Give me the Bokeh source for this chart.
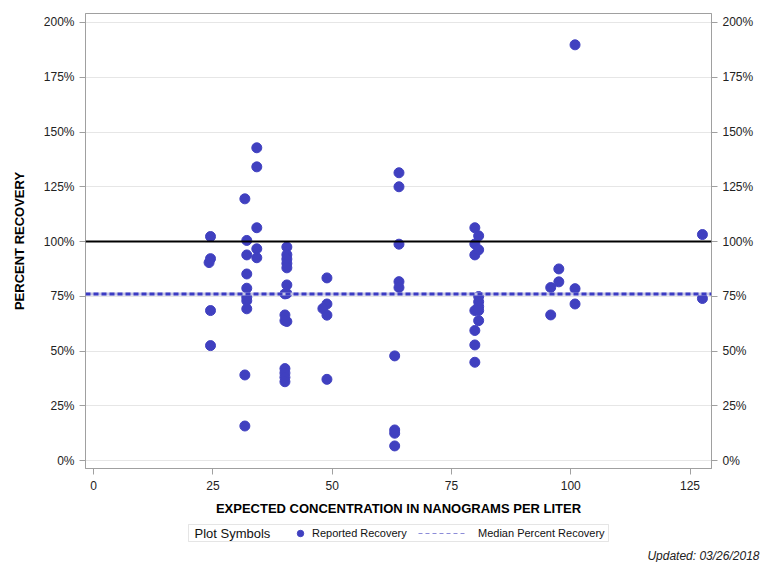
from bokeh.plotting import figure
from bokeh.layouts import column
from bokeh.models import (Range1d, FixedTicker, PrintfTickFormatter, LinearAxis,
                          Span, Legend, LegendItem, Label, BoxAnnotation, Title, ColumnDataSource)
from bokeh.embed import file_html
from bokeh.resources import INLINE

# ---- data ----
expected_conc = [24.5, 24.5, 24.5, 24.5, 24.2,
                 31.7, 31.7, 31.7,
                 32.1, 32.1, 32.1, 32.1, 32.1, 32.1, 32.1,
                 34.2, 34.2, 34.2, 34.2, 34.2,
                 40.5, 40.5, 40.5, 40.5, 40.5, 40.5, 40.5, 40.5,
                 40.1, 40.1, 40.1, 40.1, 40.1, 40.1, 40.1,
                 48.9, 48.9, 48.9, 48.9, 48.05,
                 64.0, 64.0, 64.0, 64.0, 64.0,
                 63.1, 63.1, 63.1, 63.1,
                 79.9, 79.9, 79.9, 79.9, 79.9, 79.9, 79.9,
                 80.7, 80.7, 80.7, 80.7, 80.7, 80.7, 80.7,
                 95.8, 95.8, 97.5, 97.5,
                 100.9, 100.9, 100.9,
                 127.6, 127.6]
percent_recovery = [102.3, 92.2, 68.5, 52.5, 90.4,
                    119.5, 39.1, 15.8,
                    100.5, 93.9, 85.2, 78.7, 74.6, 73.0, 69.3,
                    142.8, 134.1, 106.3, 96.7, 92.6,
                    97.5, 94.0, 92.0, 90.0, 88.0, 80.2, 76.3, 63.5,
                    76.1, 66.5, 63.9, 42.0, 40.0, 38.0, 36.0,
                    83.4, 71.5, 66.4, 37.1, 69.4,
                    131.4, 125.0, 98.8, 81.7, 79.0,
                    47.8, 14.0, 12.5, 6.7,
                    106.3, 98.9, 93.9, 68.5, 59.4, 52.8, 44.9,
                    102.6, 96.2, 74.9, 72.5, 70.3, 68.5, 63.9,
                    79.0, 66.5, 87.5, 81.6,
                    189.8, 78.5, 71.5,
                    103.2, 74.0]
median_recovery = 76.0
reference_recovery = 100.0
x_ticks = [0, 25, 50, 75, 100, 125]
y_ticks = [0, 25, 50, 75, 100, 125, 150, 175, 200]
legend_title = "Plot Symbols"
series_label = "Reported Recovery"
median_label = "Median Percent Recovery"
updated_text = "Updated: 03/26/2018"

FONT = "Liberation Sans"
BLUE = "#4040C0"
W = 760

# ---------------- main chart ----------------
p = figure(width=W, height=518,
           min_border_left=85, min_border_right=49, min_border_top=13, min_border_bottom=50,
           x_range=Range1d(-1.7, 129.5), y_range=Range1d(-3.6, 204.1),
           output_backend="svg", toolbar_location=None)
p.outline_line_color = "#a0a0a0"
p.xgrid.visible = False
p.ygrid.grid_line_color = "#e6e6e6"
p.ygrid.ticker = FixedTicker(ticks=y_ticks)

def style_axis(ax):
    ax.axis_line_color = "#a0a0a0"
    ax.major_tick_line_color = "#a0a0a0"
    ax.minor_tick_line_color = None
    ax.major_tick_out = 6
    ax.major_tick_in = 0
    ax.major_label_text_font = FONT
    ax.major_label_text_font_size = "12px"
    ax.major_label_text_color = "#222222"
    ax.axis_label_text_font = FONT
    ax.axis_label_text_font_size = "13px"
    ax.axis_label_text_font_style = "bold"
    ax.axis_label_text_color = "#000000"

xa = p.xaxis[0]
xa.ticker = FixedTicker(ticks=x_ticks)
xa.axis_label = "EXPECTED CONCENTRATION IN NANOGRAMS PER LITER"
style_axis(xa)
xa.major_label_standoff = 6
xa.axis_label_standoff = 8

ya = p.yaxis[0]
ya.ticker = FixedTicker(ticks=y_ticks)
ya.formatter = PrintfTickFormatter(format="%d%%")
ya.axis_label = "PERCENT RECOVERY"
style_axis(ya)
ya.major_label_standoff = 5
ya.axis_label_standoff = 14

ra = LinearAxis(ticker=FixedTicker(ticks=y_ticks), formatter=PrintfTickFormatter(format="%d%%"))
style_axis(ra)
ra.major_label_standoff = 5
p.add_layout(ra, "right")

# reference and median lines
p.add_layout(Span(location=reference_recovery, dimension="width", line_color="black", line_width=2))
p.add_layout(Span(location=median_recovery, dimension="width", line_color="#c4c4e4", line_width=3))
p.add_layout(Span(location=median_recovery, dimension="width", line_color="#3c3cc4",
                  line_width=3, line_dash="5 3"))

src = ColumnDataSource(data=dict(x=expected_conc, y=percent_recovery))
p.scatter("x", "y", source=src, size=10, fill_color=BLUE, line_color=BLUE)

# ---------------- legend strip (frame aligned with main frame: x in page pixels) ----------------
p2 = figure(width=W, frame_height=28,
            min_border_left=85, min_border_right=49, min_border_top=0, min_border_bottom=0,
            x_range=Range1d(85, 711), y_range=Range1d(0, 28),
            x_axis_type=None, y_axis_type=None, output_backend="svg", toolbar_location=None)
p2.outline_line_color = None
p2.grid.visible = False

leg_pts = p2.scatter(x=[-1000], y=[-1000], size=10, fill_color=BLUE, line_color=BLUE)
leg_med = p2.line(x=[-1000, -999], y=[-1000, -1000], line_color="#8c8cd8", line_width=1, line_dash="4 3")

p2.add_layout(BoxAnnotation(left=188, right=608, bottom=5, top=22, fill_alpha=0,
                            line_color="#a8a8a8", line_width=1))
p2.add_layout(Label(x=194, y=13.5, text=legend_title, text_baseline="middle",
                    text_font=FONT, text_font_size="13px", text_color="#111111"))

def mk_legend(item, x, gw, standoff):
    lg = Legend(items=[item], location=(x, 4.5), orientation="horizontal")
    lg.label_text_font = FONT
    lg.label_text_font_size = "11px"
    lg.label_text_color = "#111111"
    lg.glyph_width = gw
    lg.glyph_height = 16
    lg.label_height = 18
    lg.label_standoff = standoff
    lg.padding = 0
    lg.margin = 0
    lg.border_line_color = None
    lg.background_fill_alpha = 0
    return lg

p2.add_layout(mk_legend(LegendItem(label=series_label, renderers=[leg_pts]), 292 - 85, 16, 4), "center")
p2.add_layout(mk_legend(LegendItem(label=median_label, renderers=[leg_med]), 418 - 85, 48, 12), "center")

p2.add_layout(Title(text=updated_text, align="right", offset=-48, standoff=0,
                    text_font=FONT, text_font_size="12px", text_font_style="italic",
                    text_color="#222222"), "below")

layout = column(p, p2, spacing=0)
open("out.html", "w").write(file_html(layout, INLINE))
